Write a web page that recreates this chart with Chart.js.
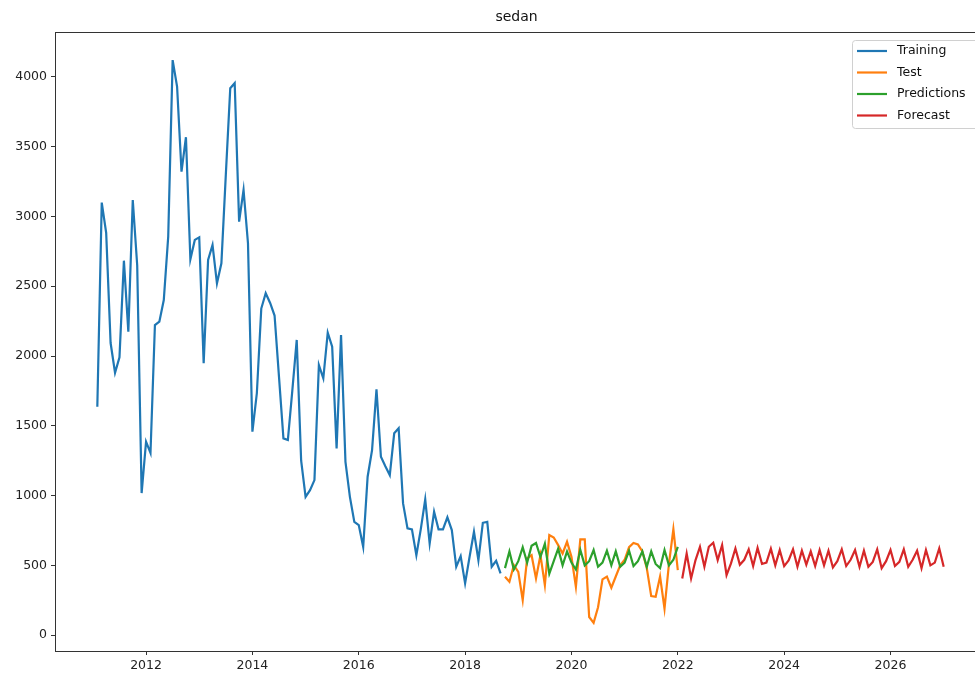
<!DOCTYPE html>
<html>
<head>
<meta charset="utf-8">
<script src="https://cdn.jsdelivr.net/npm/chart.js@4.4.1/dist/chart.umd.min.js"></script>
<style>
  html, body { margin: 0; padding: 0; background: #fff; overflow: hidden; }
  canvas { display: block; }
</style>
</head>
<body>
<canvas id="c" width="986" height="676"></canvas>
<script>
// Monthly sedan sales: history, hold-out test, model predictions and 5-year forecast
const chartTitle = 'sedan';
const seriesNames = ['Training', 'Test', 'Predictions', 'Forecast'];
const seriesColors = ['#1f77b4', '#ff7f0e', '#2ca02c', '#d62728'];

// first month of each series as [year, month]
const trainingStart = [2011, 1];
const testStart = [2018, 9];
const forecastStart = [2022, 1];

const training = [
  1637, 3099, 2882, 2093, 1880, 1990, 2683, 2174, 3118, 2650, 1018, 1386,
  1305, 2222, 2246, 2401, 2855, 4120, 3931, 3321, 3568, 2693, 2832, 2850,
  1948, 2688, 2796, 2521, 2664, 3300, 3919, 3955, 2963, 3190, 2808, 1458,
  1733, 2340, 2450, 2380, 2290, 1850, 1410, 1398, 1750, 2115, 1250, 991,
  1039, 1111, 1935, 1840, 2167, 2067, 1338, 2151, 1242, 991, 812, 789,
  633, 1135, 1326, 1761, 1278, 1210, 1147, 1446, 1482, 944, 765, 758,
  573, 760, 973, 657, 884, 758, 758, 844, 753, 490, 566, 371,
  560, 741, 538, 805, 812, 490, 533, 442
];

const test = [
  418, 382, 502, 454, 251, 550, 573, 406, 573, 358, 717, 700,
  645, 585, 669, 561, 346, 686, 686, 130, 88, 200, 400, 420,
  340, 420, 500, 540, 630, 660, 650, 600, 480, 280, 275, 420,
  190, 510, 760, 466
];

const predictions = [
  480, 600, 470, 530, 630, 520, 640, 660, 560, 655, 440, 530,
  620, 500, 600, 520, 470, 610, 500, 530, 610, 490, 520, 605,
  500, 600, 490, 520, 605, 495, 530, 600, 490, 600, 510, 480,
  610, 500, 540, 633
];

const forecast = [
  406, 585, 406, 538, 633, 490, 633, 662, 538, 645, 430, 514,
  621, 505, 540, 615, 495, 625, 510, 520, 620, 500, 610, 495,
  535, 615, 490, 605, 505, 600, 495, 610, 500, 605, 485, 530,
  615, 495, 540, 610, 490, 605, 490, 525, 615, 480, 530, 610,
  495, 525, 615, 490, 540, 605, 480, 610, 500, 520, 621, 490
];

const xTicks = [2012, 2014, 2016, 2018, 2020, 2022, 2024, 2026];
const yTicks = [0, 500, 1000, 1500, 2000, 2500, 3000, 3500, 4000];

// month-end position of each observation on a decimal-year axis
function toPoints(start, values) {
  return values.map((v, k) => {
    const m = start[1] + k;
    return { x: start[0] + m / 12, y: v };
  });
}

const seriesData = [
  toPoints(trainingStart, training),
  toPoints(testStart, test),
  toPoints(testStart, predictions),
  toPoints(forecastStart, forecast)
];

// 5% padding around the data range on both axes
function paddedRange(vals) {
  const lo = Math.min(...vals), hi = Math.max(...vals);
  const pad = (hi - lo) * 0.05;
  return [lo - pad, hi + pad];
}
const allPts = seriesData.flat();
const [xMin, xMax] = paddedRange(allPts.map(p => p.x));
const [yMin, yMax] = paddedRange(allPts.map(p => p.y));

const FONT = 'DejaVu Sans';

const framePlugin = {
  id: 'frame',
  afterDraw(chart) {
    const { ctx, chartArea: a } = chart;
    ctx.save();
    ctx.strokeStyle = '#333';
    ctx.lineWidth = 1;
    ctx.strokeRect(Math.round(a.left) + 0.5, Math.round(a.top) + 0.5,
                   Math.round(a.right - a.left), Math.round(a.bottom - a.top));
    // title
    ctx.fillStyle = '#111';
    ctx.font = '14px "' + FONT + '"';
    ctx.textAlign = 'center';
    ctx.textBaseline = 'middle';
    ctx.fillText(chartTitle, (a.left + a.right) / 2 - 4, 17);
    ctx.restore();
  }
};

const legendPlugin = {
  id: 'boxLegend',
  afterDraw(chart) {
    const { ctx, chartArea: a } = chart;
    const sets = chart.data.datasets;
    const fs = 12.5;
    const rowH = 21.5;
    const boxRight = a.right - 5;
    const boxLeft = 852;
    const boxTop = a.top + 8;
    const boxH = sets.length * rowH + 2;
    ctx.save();
    ctx.beginPath();
    ctx.roundRect(boxLeft + 0.5, boxTop + 0.5, boxRight - boxLeft, boxH, 3);
    ctx.fillStyle = 'rgba(255,255,255,0.8)';
    ctx.fill();
    ctx.strokeStyle = '#d0d0d0';
    ctx.lineWidth = 1;
    ctx.stroke();
    ctx.font = fs + 'px "' + FONT + '"';
    ctx.textBaseline = 'middle';
    ctx.textAlign = 'left';
    sets.forEach((ds, k) => {
      const y = boxTop + 11 + k * rowH;
      ctx.strokeStyle = ds.borderColor;
      ctx.lineWidth = 2.2;
      ctx.beginPath();
      ctx.moveTo(857, y);
      ctx.lineTo(887, y);
      ctx.stroke();
      ctx.fillStyle = '#111';
      ctx.fillText(ds.label, 897, y);
    });
    ctx.restore();
  }
};

new Chart(document.getElementById('c'), {
  type: 'line',
  data: {
    datasets: seriesData.map((pts, k) => ({
      label: seriesNames[k],
      data: pts,
      borderColor: seriesColors[k],
      backgroundColor: seriesColors[k],
      borderWidth: 2.2,
      pointRadius: 0,
      tension: 0,
      fill: false,
      order: seriesNames.length - k
    }))
  },
  options: {
    responsive: false,
    animation: false,
    devicePixelRatio: 1,
    layout: { padding: { top: 32, left: 0, right: 0, bottom: 0 } },
    plugins: {
      legend: { display: false },
      title: { display: false },
      tooltip: { enabled: false }
    },
    scales: {
      x: {
        type: 'linear',
        min: xMin,
        max: xMax,
        afterBuildTicks: s => { s.ticks = xTicks.map(v => ({ value: v })); },
        afterFit: s => { s.height = 25; },
        grid: { display: true, drawOnChartArea: false, drawTicks: true, tickLength: 4, color: '#333' },
        border: { display: false },
        ticks: {
          padding: 3,
          maxRotation: 0,
          autoSkip: false,
          color: '#222',
          font: { family: FONT, size: 12.5 },
          callback: v => String(v)
        }
      },
      y: {
        type: 'linear',
        min: yMin,
        max: yMax,
        afterBuildTicks: s => { s.ticks = yTicks.map(v => ({ value: v })); },
        afterFit: s => { s.width = 55; },
        grid: { display: true, drawOnChartArea: false, drawTicks: true, tickLength: 4, color: '#333' },
        border: { display: false },
        ticks: {
          padding: 4,
          autoSkip: false,
          color: '#222',
          font: { family: FONT, size: 12.5 },
          callback: v => String(v)
        }
      }
    }
  },
  plugins: [framePlugin, legendPlugin]
});
</script>
</body>
</html>
